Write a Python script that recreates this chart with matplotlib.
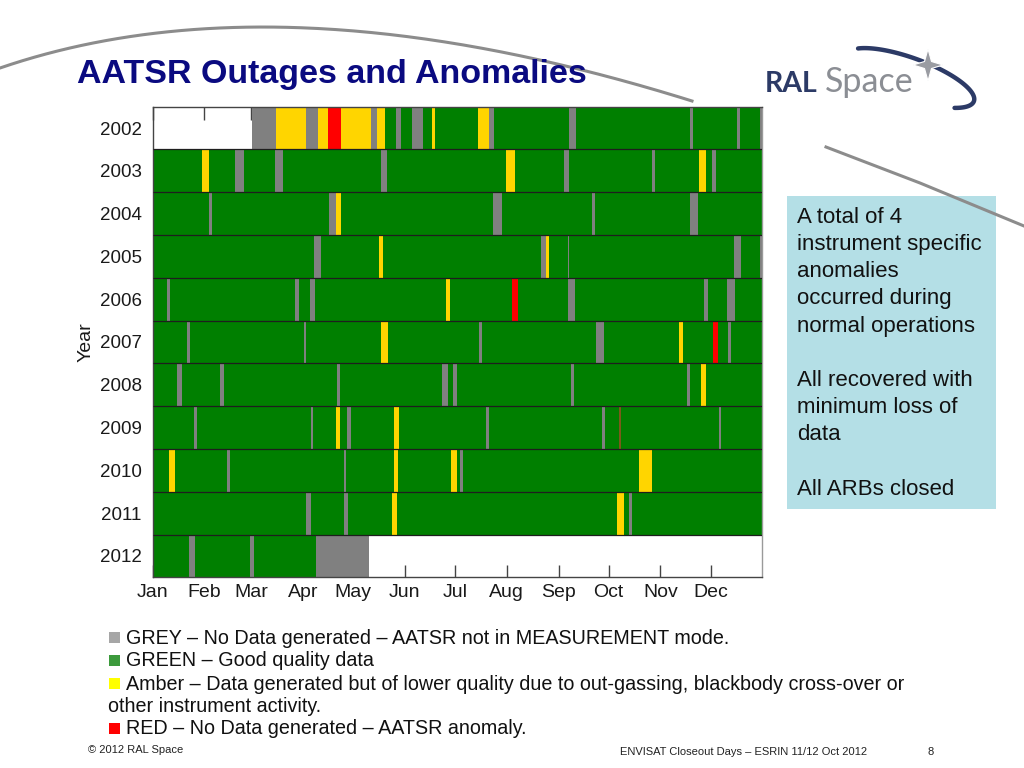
import numpy as np
import matplotlib.pyplot as plt
from matplotlib.patches import Rectangle, Polygon

plt.rcParams['font.family'] = ['Liberation Sans', 'DejaVu Sans']

years = list(range(2002, 2013))
month_names = ['Jan', 'Feb', 'Mar', 'Apr', 'May', 'Jun',
               'Jul', 'Aug', 'Sep', 'Oct', 'Nov', 'Dec']
month_starts = [0, 31, 59, 90, 120, 151, 181, 212, 243, 273, 304, 334]

# mission coverage (day of year): data from 1 Mar 2002 to early May 2012
first_day = 59.5
last_day = 129.5

# (year, start day, end day)
grey_periods = [
    (2002, 59.5, 74), (2002, 92, 99), (2002, 130.5, 134.5), (2002, 145.5, 148.5),
    (2002, 155, 162), (2002, 201.5, 204.5), (2002, 249.5, 253.5), (2002, 321.5, 323.5),
    (2002, 350, 351.5), (2002, 363.8, 365),
    (2003, 49.5, 54.5), (2003, 73, 78), (2003, 136.5, 140), (2003, 246.5, 249),
    (2003, 299, 300.5), (2003, 335, 337.5),
    (2004, 33.5, 35.5), (2004, 105.5, 110), (2004, 203.5, 209), (2004, 263, 265),
    (2004, 322, 326.5),
    (2005, 96.5, 101), (2005, 232.5, 235.5), (2005, 248.5, 249.5), (2005, 348, 352.5),
    (2005, 363.8, 365),
    (2006, 8.5, 10.5), (2006, 85.5, 87.5), (2006, 94, 97), (2006, 248.5, 253),
    (2006, 330, 332.5), (2006, 344, 348.5),
    (2007, 20.5, 22.5), (2007, 90.5, 92), (2007, 195.5, 197), (2007, 265.5, 270),
    (2007, 344.5, 346.5),
    (2008, 14.5, 17.5), (2008, 40.5, 42.5), (2008, 110.5, 112), (2008, 173.5, 177),
    (2008, 180, 182), (2008, 250.5, 252.5), (2008, 320, 321.5),
    (2009, 24.5, 26.5), (2009, 94.5, 96), (2009, 116.5, 119), (2009, 199.5, 201.5),
    (2009, 269, 271), (2009, 339, 340.5),
    (2010, 44.5, 46.5), (2010, 114.5, 116), (2010, 184, 186),
    (2011, 91.5, 95), (2011, 114.5, 117), (2011, 285, 287),
    (2012, 21.5, 25.5), (2012, 58.5, 60.5), (2012, 97.5, 129.5),
]

amber_periods = [
    (2002, 74, 92), (2002, 99, 105), (2002, 112.5, 130.5), (2002, 134.5, 139),
    (2002, 167.5, 169), (2002, 194.5, 201.5),
    (2003, 29.5, 34), (2003, 211.5, 217), (2003, 327, 331),
    (2004, 110, 113),
    (2005, 135.5, 138), (2005, 235.5, 237.5),
    (2006, 175.5, 178),
    (2007, 136.5, 141), (2007, 315, 317.5),
    (2008, 328, 331.5),
    (2009, 109.5, 112), (2009, 144.5, 147.5),
    (2010, 10, 13.5), (2010, 144.5, 147), (2010, 178.5, 182), (2010, 291, 299),
    (2011, 143.5, 146), (2011, 278, 282),
]

red_periods = [
    (2002, 105, 112.5), (2006, 215, 219), (2007, 335.5, 338.5),
]

# very short anomaly, barely visible in the plot
short_red_periods = [(2009, 279, 280.5)]

fig = plt.figure(figsize=(10.24, 7.68), dpi=100)

# slide decoration layer in pixel coordinates
bg = fig.add_axes([0, 0, 1, 1])
bg.set_xlim(0, 1024)
bg.set_ylim(768, 0)
bg.axis('off')

t = np.linspace(0, 1, 200)
p0, p1, p2 = np.array([0, 68]), np.array([280, -28]), np.array([692, 101])
curve = np.outer((1 - t) ** 2, p0) + np.outer(2 * (1 - t) * t, p1) + np.outer(t ** 2, p2)
bg.plot(curve[:, 0], curve[:, 1], color='#8c8c8c', lw=2.2)
bg.plot([826, 920, 1024], [147, 183, 226], color='#8c8c8c', lw=2.2)

bg.text(77, 75, 'AATSR Outages and Anomalies', fontsize=24.5, fontweight='bold',
        color='#0a0a80', va='center', ha='left')

# logo
bg.text(765, 92, 'RAL', family=['Lato', 'DejaVu Sans'], fontweight='bold', fontsize=20.5,
        color='#2c3a66', va='baseline', ha='left')
bg.text(825, 92, 'Space', family=['Lato', 'DejaVu Sans'], fontsize=24.5,
        color='#8b8e94', va='baseline', ha='left')
th = np.linspace(np.radians(-150), np.radians(40), 120)
phi = np.radians(20)
cx, cy, ea, eb = 910, 78, 68, 20
ex = cx + ea * np.cos(th) * np.cos(phi) - eb * np.sin(th) * np.sin(phi)
ey = cy + ea * np.cos(th) * np.sin(phi) + eb * np.sin(th) * np.cos(phi)
bg.plot(ex, ey, color='#2c3a66', lw=3.2, solid_capstyle='round')
sx, sy = 928, 65
star = [(sx, sy - 16), (sx + 3.5, sy - 3.5), (sx + 15, sy), (sx + 3.5, sy + 3.5),
        (sx, sy + 16), (sx - 3.5, sy + 3.5), (sx - 15, sy), (sx - 3.5, sy - 3.5)]
bg.add_patch(Polygon(star, closed=True, facecolor='#9a9ca2', edgecolor='white',
                     lw=0.8, zorder=5))

# information box
bg.add_patch(Rectangle((787, 196), 209, 313, facecolor='#b4dfe6', edgecolor='none'))
box_text = ('A total of 4\ninstrument specific\nanomalies\noccurred during\n'
            'normal operations\n\nAll recovered with\nminimum loss of\ndata\n\n'
            'All ARBs closed')
bg.text(797, 207, box_text, fontsize=16, va='top', ha='left', linespacing=1.385,
        color='#111111')

# legend text
legend_items = [
    ('#a6a6a6', 'GREY \u2013 No Data generated \u2013 AATSR not in MEASUREMENT mode.', 638),
    ('#3c9a3c', 'GREEN \u2013 Good quality data', 661),
    ('#ffff00', 'Amber \u2013 Data generated but of lower quality due to out-gassing, '
                'blackbody cross-over or', 684),
    ('#ff0000', 'RED \u2013 No Data generated \u2013 AATSR anomaly.', 729),
]
for colour, label, yy in legend_items:
    bg.add_patch(Rectangle((109, yy - 6), 11, 11, facecolor=colour, edgecolor='none'))
    bg.text(126, yy, label, fontsize=14.2, va='center', ha='left', color='#111111')
bg.text(108, 707, 'other instrument activity.', fontsize=14.2, va='center', ha='left',
        color='#111111')

bg.text(88, 750, '\u00a9 2012 RAL Space', fontsize=8, va='center', ha='left', color='#222222')
bg.text(620, 752, 'ENVISAT Closeout Days \u2013 ESRIN 11/12 Oct 2012', fontsize=8,
        va='center', ha='left', color='#222222')
bg.text(928, 752, '8', fontsize=8, va='center', ha='left', color='#222222')

# chart
ax = fig.add_axes([152.7 / 1024, 1 - 577.3 / 768, 609.6 / 1024, 470.6 / 768])

for yr in years:
    start = first_day if yr == years[0] else 0
    end = last_day if yr == years[-1] else 365
    ax.barh(yr, end - start, left=start, height=1, color='#007f00', linewidth=0)


def draw(periods, colour):
    for yr, a, b in periods:
        ax.barh(yr, b - a, left=a, height=1, color=colour, linewidth=0)


draw(grey_periods, '#808080')
draw(amber_periods, '#ffd500')
draw(red_periods, '#ff0000')
draw(short_red_periods, '#7a5a1a')

ax.hlines([y + 0.5 for y in years[:-1]], 0, 365, color='#1e1e1e', lw=0.9, zorder=3)

ax.set_xlim(0, 365)
ax.set_ylim(years[-1] + 0.5, years[0] - 0.5)
ax.set_xticks(month_starts)
ax.set_xticklabels(month_names)
ax.set_yticks(years)
ax.set_yticklabels([str(y) for y in years])
ax.set_axisbelow(True)
ax.tick_params(axis='x', direction='in', length=9, width=1, top=True,
               color='#444444', labelsize=14, pad=5, labelcolor='#1a1a1a')
ax.tick_params(axis='y', length=0, labelsize=13.5, pad=8, labelcolor='#1a1a1a')
ax.set_ylabel('Year', fontsize=14, labelpad=4, color='#1a1a1a')
for side in ax.spines.values():
    side.set_color('#444444')
    side.set_linewidth(1)
ax.spines['right'].set_color('#9a9a9a')

fig.savefig('out.png', dpi=100)
